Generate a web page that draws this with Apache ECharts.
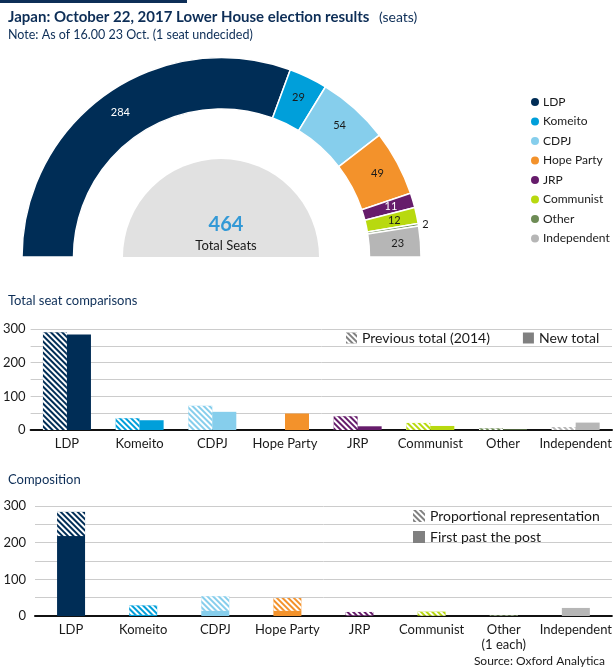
<!DOCTYPE html>
<html>
<head>
<meta charset="utf-8">
<script src="https://cdn.jsdelivr.net/npm/echarts@6/dist/echarts.min.js"></script>
<style>html,body{margin:0;padding:0;background:#fff}#c{width:615px;height:669px}</style>
</head>
<body>
<div id="c"></div>
<script>
// ---- data ----
const parties = ['LDP', 'Komeito', 'CDPJ', 'Hope Party', 'JRP', 'Communist', 'Other', 'Independent'];
const seats = [284, 29, 54, 49, 11, 12, 2, 23];
const prevTotal2014 = [290, 35, 72, 0, 41, 21, 5, 9];
const newTotal = [284, 29, 54, 49, 11, 12, 2, 22];
const compCategories = ['LDP', 'Komeito', 'CDPJ', 'Hope Party', 'JRP', 'Communist', 'Other\n(1 each)', 'Independent'];
const firstPastPost = [218, 3, 14, 14, 2, 1, 1, 22];
const proportional = [66, 26, 40, 35, 9, 11, 1, 0];
const yTicks = [0, 100, 200, 300];

// ---- styles ----
const partyColors = ['#002d56', '#009fda', '#86ceec', '#f3922b', '#661c6b', '#b8d90f', '#6d8b55', '#b6b6b6'];
const labelColors = ['#fff', '#1a1a1a', '#1a1a1a', '#1a1a1a', '#fff', '#1a1a1a', '#1a1a1a', '#1a1a1a'];
const navy = '#0d2e57';
const FONT = 'Lato';
const hatch = { symbol: 'rect', symbolSize: 1, dashArrayX: [1, 0], dashArrayY: [1.8, 1.8], rotation: Math.PI / 4, color: '#ffffff' };

const total = seats.reduce((a, b) => a + b, 0);
const chart = echarts.init(document.getElementById('c'), null, { renderer: 'canvas' });

const yLabelFmt = v => (yTicks.indexOf(v) >= 0 ? String(v) : '');

function barGrid(top, height, left) {
  return { top: top, height: height, left: left, right: 3, containLabel: false };
}

const option = {
  animation: false,
  textStyle: { fontFamily: FONT },
  title: [
    { text: 'Japan: October 22, 2017 Lower House election results', left: 3, top: 5,
      textStyle: { fontFamily: FONT, fontSize: 15, fontWeight: 'bold', color: navy } },
    { text: 'Note: As of 16.00 23 Oct. (1 seat undecided)', left: 3, top: 23,
      textStyle: { fontFamily: FONT, fontSize: 12.5, fontWeight: 'normal', color: navy } },
    { text: 'Total seat comparisons', left: 3, top: 289,
      textStyle: { fontFamily: FONT, fontSize: 13, fontWeight: 'normal', color: navy } },
    { text: 'Composition', left: 3, top: 468,
      textStyle: { fontFamily: FONT, fontSize: 13, fontWeight: 'normal', color: navy } },
    { text: 'Source: Oxford Analytica', right: 5, top: 650,
      textStyle: { fontFamily: FONT, fontSize: 12, fontWeight: 'normal', color: '#1a1a1a' } },
    { text: String(total), left: 221, top: 210, textAlign: 'center',
      textStyle: { fontFamily: FONT, fontSize: 20, fontWeight: 'bold', color: '#3399d6' } },
    { text: 'Total Seats', left: 221, top: 234, textAlign: 'center',
      textStyle: { fontFamily: FONT, fontSize: 13, fontWeight: 'normal', color: '#1a1a1a' } },
    { text: '(seats)', left: 374, top: 5,
      textStyle: { fontFamily: FONT, fontSize: 14, fontWeight: 'normal', color: navy } }
  ],
  graphic: [
    { type: 'rect', left: 0, top: 0, z: 100, shape: { width: 187, height: 3 }, style: { fill: navy } }
  ],
  legend: [
    {
      data: parties, orient: 'vertical', left: 524, top: 91, itemGap: 7.5,
      icon: 'circle', itemWidth: 10, itemHeight: 10,
      textStyle: { fontFamily: FONT, fontSize: 12, color: '#1a1a1a', padding: [0, 0, 0, -2] },
      selectedMode: false
    },
    {
      data: ['Previous total (2014)', 'New total'], left: 346, top: 331, itemGap: 33, width: 270,
      icon: 'rect', itemWidth: 11, itemHeight: 11, padding: 0,
      textStyle: { fontFamily: FONT, fontSize: 14, color: '#1a1a1a' }, selectedMode: false
    },
    {
      data: ['Proportional representation', 'First past the post'], orient: 'vertical', left: 413, top: 509, itemGap: 7,
      icon: 'rect', itemWidth: 12, itemHeight: 12, padding: 0,
      textStyle: { fontFamily: FONT, fontSize: 14, color: '#1a1a1a' }, selectedMode: false
    }
  ],
  grid: [barGrid(329, 101, 29), barGrid(506, 110, 35)],
  xAxis: [0, 1].map(i => ({
    type: 'category', gridIndex: i, data: i === 0 ? parties : compCategories,
    axisTick: { show: false },
    axisLine: { lineStyle: { color: '#111', width: 2 } },
    axisLabel: { fontFamily: FONT, fontSize: 13, color: '#1a1a1a', margin: 6, interval: 0, lineHeight: 15 }
  })),
  yAxis: [0, 1].map(i => ({
    type: 'value', gridIndex: i, min: 0, max: 300, interval: 50,
    axisLabel: { formatter: yLabelFmt, fontFamily: FONT, fontSize: 13, color: '#1a1a1a', margin: i === 0 ? 5 : 9 },
    splitLine: { lineStyle: { color: '#cccccc', width: 1 } },
    axisLine: { show: false }, axisTick: { show: false }
  })),
  series: [
    {
      type: 'pie', name: 'bg', radius: [0, 98], center: [221, 257], startAngle: 180, endAngle: 0,
      silent: true, label: { show: false }, labelLine: { show: false }, legendHoverLink: false,
      data: [{ value: total, name: '__bg', itemStyle: { color: '#e1e1e1' } }]
    },
    {
      type: 'pie', name: 'Seats', radius: [148, 199.5], center: [221.5, 257], startAngle: 180, endAngle: 0,
      clockwise: true, avoidLabelOverlap: false, silent: true,
      itemStyle: { borderColor: '#fff', borderWidth: 1.5 },
      label: { show: true, position: 'inside', fontFamily: FONT, fontSize: 11, formatter: '{c}' },
      labelLine: { show: false },
      data: parties.map((p, i) => ({
        name: p, value: seats[i],
        itemStyle: { color: partyColors[i] },
        label: seats[i] < 5
          ? { position: 'outside', color: '#1a1a1a', distanceToLabelLine: 0 }
          : { color: labelColors[i] },
        labelLine: seats[i] < 5 ? { show: false, length: 2, length2: 2 } : { show: false }
      }))
    },
    {
      type: 'bar', name: 'Previous total (2014)', xAxisIndex: 0, yAxisIndex: 0,
      barWidth: 24, barGap: '0%',
      itemStyle: { color: '#808080', decal: hatch },
      data: prevTotal2014.map((v, i) => ({ value: v, itemStyle: { color: partyColors[i], decal: hatch } }))
    },
    {
      type: 'bar', name: 'New total', xAxisIndex: 0, yAxisIndex: 0,
      barWidth: 24, barGap: '0%',
      itemStyle: { color: '#808080' },
      data: newTotal.map((v, i) => ({ value: v, itemStyle: { color: partyColors[i] } }))
    },
    {
      type: 'bar', name: 'First past the post', xAxisIndex: 1, yAxisIndex: 1, stack: 'c',
      barWidth: 28, itemStyle: { color: '#808080' },
      data: firstPastPost.map((v, i) => ({ value: v, itemStyle: { color: partyColors[i] } }))
    },
    {
      type: 'bar', name: 'Proportional representation', xAxisIndex: 1, yAxisIndex: 1, stack: 'c',
      barWidth: 28, itemStyle: { color: '#808080', decal: hatch },
      data: proportional.map((v, i) => ({ value: v, itemStyle: { color: partyColors[i], decal: hatch } }))
    }
  ]
};
chart.setOption(option);
</script>
</body>
</html>
